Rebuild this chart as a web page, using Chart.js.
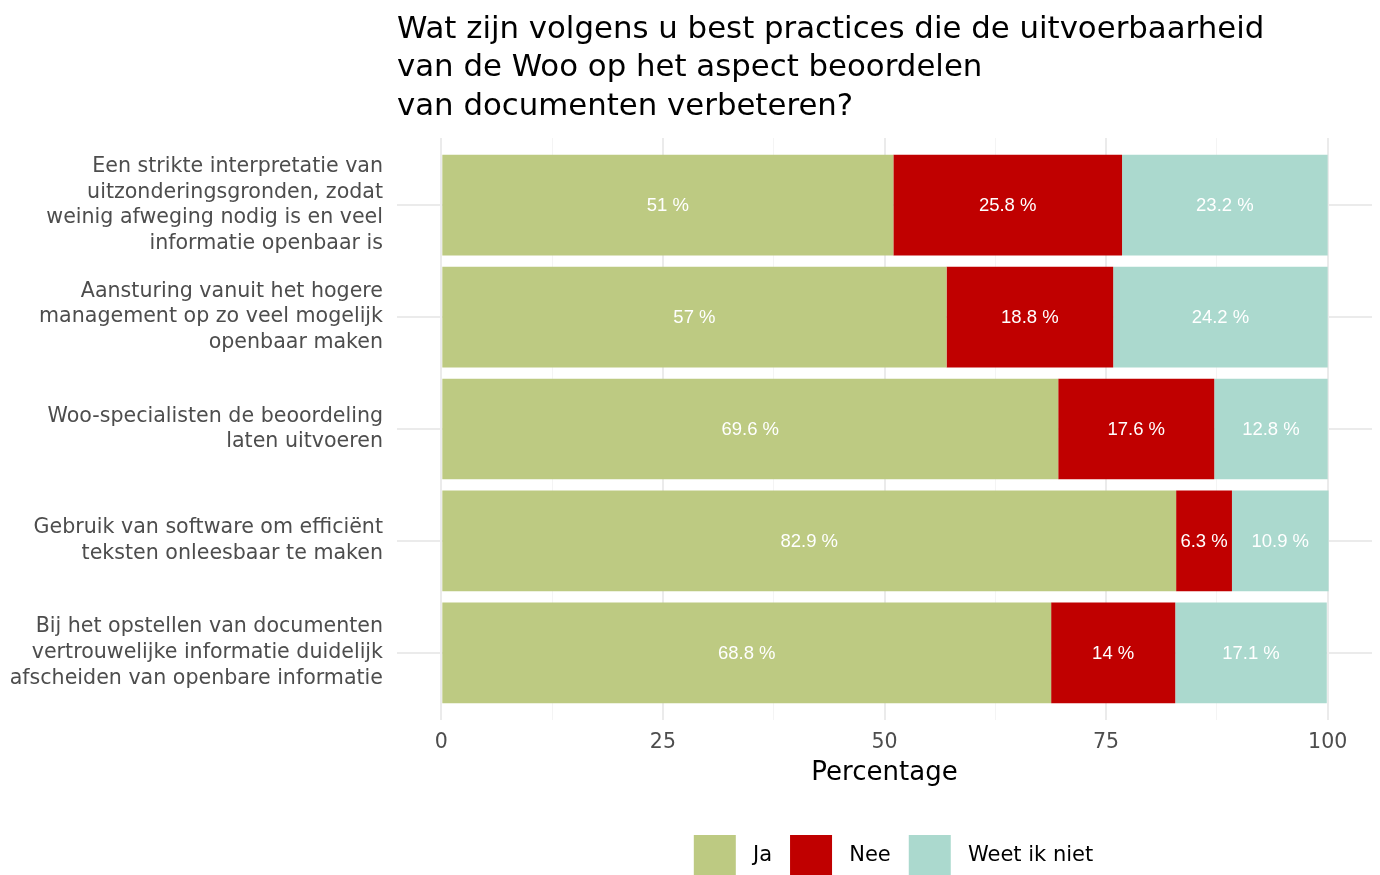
<!DOCTYPE html>
<html>
<head>
<meta charset="utf-8">
<script src="https://cdn.jsdelivr.net/npm/chart.js@4"></script>
<style>
  html, body { margin: 0; padding: 0; background: #ffffff; overflow: hidden; }
  #wrap { width: 1380px; height: 875px; }
</style>
</head>
<body>
<div id="wrap"><canvas id="chart"></canvas></div>
<script>
// Données
const vragen = [
  ['Een strikte interpretatie van', 'uitzonderingsgronden, zodat', 'weinig afweging nodig is en veel', 'informatie openbaar is'],
  ['Aansturing vanuit het hogere', 'management op zo veel mogelijk', 'openbaar maken'],
  ['Woo-specialisten de beoordeling', 'laten uitvoeren'],
  ['Gebruik van software om efficiënt', 'teksten onleesbaar te maken'],
  ['Bij het opstellen van documenten', 'vertrouwelijke informatie duidelijk', 'afscheiden van openbare informatie']
];
const reeksen = ['Ja', 'Nee', 'Weet ik niet'];
const ja = [51, 57, 69.6, 82.9, 68.8];
const nee = [25.8, 18.8, 17.6, 6.3, 14];
const weetNiet = [23.2, 24.2, 12.8, 10.9, 17.1];
const xTicks = [0, 12.5, 25, 37.5, 50, 62.5, 75, 87.5, 100];
const kleuren = ['#bdca82', '#c00000', '#abd9ce'];

const FONT = "'DejaVu Sans', sans-serif";
const FONT_BALK = "'Liberation Sans', Arial, sans-serif";

// bars op positie 0..4 (y lineair zodat de marge als ggplot is)
function punten(waarden) {
  return waarden.map((v, i) => ({ x: v, y: i }));
}

// labels in de balken
const balkLabels = {
  id: 'balkLabels',
  afterDatasetsDraw(chart) {
    const ctx = chart.ctx;
    ctx.save();
    ctx.font = '18.5px ' + FONT_BALK;
    ctx.fillStyle = '#ffffff';
    ctx.textAlign = 'center';
    ctx.textBaseline = 'middle';
    chart.data.datasets.forEach((ds, d) => {
      const meta = chart.getDatasetMeta(d);
      meta.data.forEach((bar, i) => {
        const p = bar.getProps(['x', 'y', 'base'], true);
        ctx.fillText(ds.data[i].x + ' %', (p.x + p.base) / 2, p.y + 1);
      });
    });
    ctx.restore();
  }
};

// legenda iets naar rechts, zoals in het origineel
const legendaSchuif = {
  id: 'legendaSchuif',
  afterLayout(chart) {
    chart.legend.left += 9;
    chart.legend.right += 9;
  }
};

new Chart(document.getElementById('chart'), {
  type: 'bar',
  data: {
    datasets: [
      { label: reeksen[0], data: punten(ja), backgroundColor: kleuren[0] },
      { label: reeksen[1], data: punten(nee), backgroundColor: kleuren[1] },
      { label: reeksen[2], data: punten(weetNiet), backgroundColor: kleuren[2] }
    ]
  },
  options: {
    indexAxis: 'y',
    responsive: true,
    maintainAspectRatio: false,
    animation: false,
    barPercentage: 0.9,
    categoryPercentage: 1,
    borderWidth: 0,
    layout: { padding: { left: 0, right: 8, top: 0, bottom: -12 } },
    scales: {
      x: {
        type: 'linear',
        stacked: true,
        min: -5,
        max: 105,
        afterBuildTicks: s => { s.ticks = xTicks.map(v => ({ value: v })); },
        afterFit: s => { s.height = 97; },
        border: { display: false },
        grid: {
          drawTicks: false,
          color: c => (c.tick && c.tick.value % 25 === 0) ? '#ebebeb' : '#f4f4f4',
          lineWidth: c => (c.tick && c.tick.value % 25 === 0) ? 2 : 1
        },
        ticks: {
          padding: 10,
          color: '#4d4d4d',
          font: { family: FONT, size: 20.5 },
          maxRotation: 0,
          autoSkip: false,
          callback: v => (v % 25 === 0 ? String(v) : '')
        },
        title: {
          display: true,
          text: 'Percentage',
          color: '#000000',
          font: { family: FONT, size: 26 },
          padding: { top: 4, bottom: 28 }
        }
      },
      y: {
        type: 'linear',
        stacked: true,
        reverse: true,
        offset: false,
        min: -0.6,
        max: 4.6,
        afterBuildTicks: s => { s.ticks = vragen.map((_, i) => ({ value: i })); },
        afterFit: s => { s.width = 397; },
        border: { display: false },
        grid: { drawTicks: false, offset: false, color: '#ebebeb', lineWidth: 2 },
        ticks: {
          padding: 14,
          color: '#4d4d4d',
          font: { family: FONT, size: 20.6, lineHeight: 1.248 },
          autoSkip: false,
          callback: v => vragen[v]
        }
      }
    },
    plugins: {
      title: {
        display: true,
        fullSize: false,
        align: 'start',
        text: ['Wat zijn volgens u best practices die de uitvoerbaarheid', 'van de Woo op het aspect beoordelen', 'van documenten verbeteren?'],
        color: '#000000',
        font: { family: FONT, size: 30.8, weight: 'normal', lineHeight: 1.247 },
        padding: { top: 10.5, bottom: 12.3 }
      },
      legend: {
        position: 'bottom',
        fullSize: false,
        labels: {
          boxWidth: 42,
          boxHeight: 42,
          padding: 18,
          color: '#000000',
          font: { family: FONT, size: 21 },
          // iets meer ruimte tussen vakje en tekst
          generateLabels: chart => Chart.defaults.plugins.legend.labels.generateLabels(chart)
            .map(item => Object.assign(item, { text: ' ' + item.text, lineWidth: 0 }))
        }
      },
      tooltip: { enabled: false }
    }
  },
  plugins: [balkLabels, legendaSchuif]
});
</script>
</body>
</html>
